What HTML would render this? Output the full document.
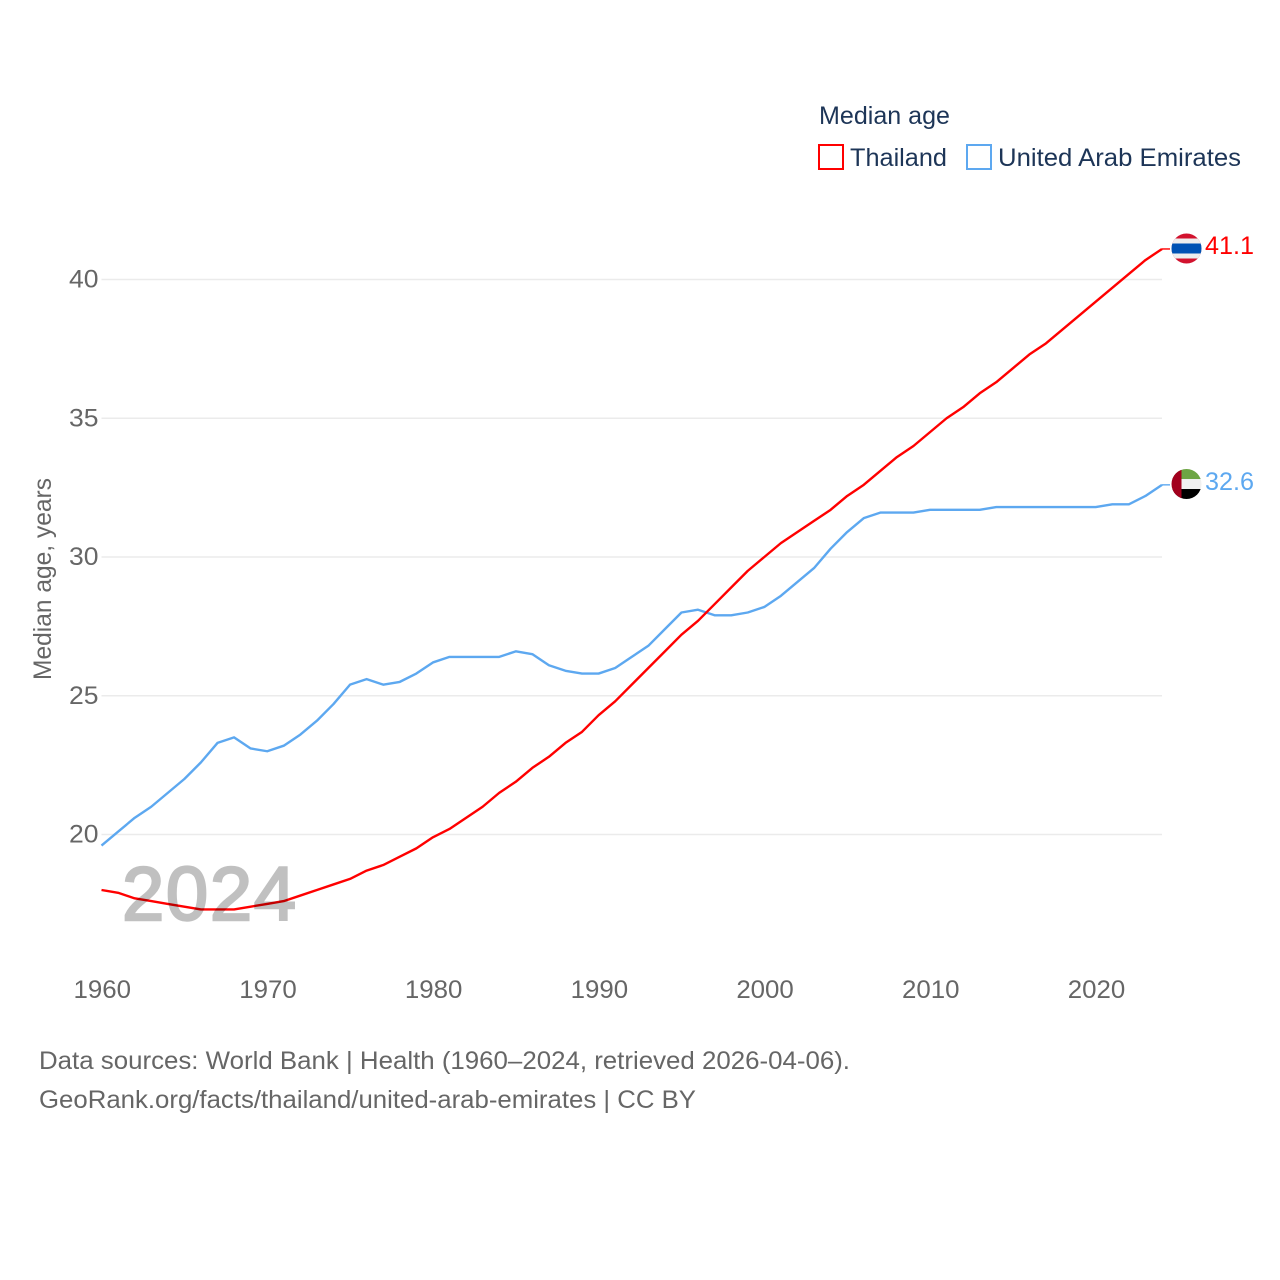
<!DOCTYPE html>
<html lang="en">
<head>
<meta charset="utf-8">
<title>Median age: Thailand and United Arab Emirates</title>
<style>
html,body{margin:0;padding:0;background:#fff;width:1280px;height:1280px;overflow:hidden}
svg{display:block}
text{font-family:"Liberation Sans",sans-serif;font-size:25px}
</style>
</head>
<body>
<svg id="chart" xmlns="http://www.w3.org/2000/svg" width="1280" height="1280" viewBox="0 0 1280 1280">
  <defs>
    <clipPath id="clip-th"><circle cx="1186.5" cy="248.5" r="15"/></clipPath>
    <clipPath id="clip-ae"><circle cx="1186.5" cy="484" r="15"/></clipPath>
  </defs>
  <g id="grid"></g>
  <g id="yticks"></g>
  <g id="xticks"></g>
  <text transform="translate(51 579) rotate(-90)" text-anchor="middle" fill="#666" textLength="202" lengthAdjust="spacingAndGlyphs">Median age, years</text>
  <g id="series"></g>
  <text x="122" y="920" fill="#000" stroke="#000" stroke-width="2.4" opacity="0.245" style="font-size:76px" textLength="174" lengthAdjust="spacing">2024</text>

  <g clip-path="url(#clip-th)">
    <rect x="1171" y="233.5" width="31" height="30" fill="#d2122e"/>
    <rect x="1171" y="238.5" width="31" height="20" fill="#eeeeee"/>
    <rect x="1171" y="243.5" width="31" height="10" fill="#0052b4"/>
  </g>
  <g clip-path="url(#clip-ae)">
    <rect x="1171" y="469" width="31" height="10" fill="#6da544"/>
    <rect x="1171" y="479" width="31" height="10" fill="#f0f0f0"/>
    <rect x="1171" y="489" width="31" height="10" fill="#000"/>
    <rect x="1171" y="469" width="10.5" height="30" fill="#a2001d"/>
  </g>
  <text x="1205" y="254" fill="#ff0000" textLength="49" lengthAdjust="spacingAndGlyphs">41.1</text>
  <text x="1205" y="490" fill="#5da8f0" textLength="49" lengthAdjust="spacingAndGlyphs">32.6</text>

  <g>
    <text x="819" y="124" fill="#1d3557" textLength="131" lengthAdjust="spacingAndGlyphs">Median age</text>
    <rect x="819" y="145" width="24" height="24" fill="none" stroke="#ff0000" stroke-width="2"/>
    <text x="850" y="166" fill="#1d3557" textLength="97" lengthAdjust="spacingAndGlyphs">Thailand</text>
    <rect x="967" y="145" width="24" height="24" fill="none" stroke="#5da8f0" stroke-width="2"/>
    <text x="998" y="166" fill="#1d3557" textLength="243" lengthAdjust="spacingAndGlyphs">United Arab Emirates</text>
  </g>

  <text x="39" y="1069" fill="#666" textLength="811" lengthAdjust="spacingAndGlyphs">Data sources: World Bank | Health (1960–2024, retrieved 2026-04-06).</text>
  <text x="39" y="1108" fill="#666" textLength="657" lengthAdjust="spacingAndGlyphs">GeoRank.org/facts/thailand/united-arab-emirates | CC BY</text>
</svg>
<script>
const years = [1960,1961,1962,1963,1964,1965,1966,1967,1968,1969,1970,1971,1972,1973,1974,1975,1976,1977,1978,1979,1980,1981,1982,1983,1984,1985,1986,1987,1988,1989,1990,1991,1992,1993,1994,1995,1996,1997,1998,1999,2000,2001,2002,2003,2004,2005,2006,2007,2008,2009,2010,2011,2012,2013,2014,2015,2016,2017,2018,2019,2020,2021,2022,2023,2024];
const thailand = [18.0,17.9,17.7,17.6,17.5,17.4,17.3,17.3,17.3,17.4,17.5,17.6,17.8,18.0,18.2,18.4,18.7,18.9,19.2,19.5,19.9,20.2,20.6,21.0,21.5,21.9,22.4,22.8,23.3,23.7,24.3,24.8,25.4,26.0,26.6,27.2,27.7,28.3,28.9,29.5,30.0,30.5,30.9,31.3,31.7,32.2,32.6,33.1,33.6,34.0,34.5,35.0,35.4,35.9,36.3,36.8,37.3,37.7,38.2,38.7,39.2,39.7,40.2,40.7,41.1];
const uae = [19.6,20.1,20.6,21.0,21.5,22.0,22.6,23.3,23.5,23.1,23.0,23.2,23.6,24.1,24.7,25.4,25.6,25.4,25.5,25.8,26.2,26.4,26.4,26.4,26.4,26.6,26.5,26.1,25.9,25.8,25.8,26.0,26.4,26.8,27.4,28.0,28.1,27.9,27.9,28.0,28.2,28.6,29.1,29.6,30.3,30.9,31.4,31.6,31.6,31.6,31.7,31.7,31.7,31.7,31.8,31.8,31.8,31.8,31.8,31.8,31.8,31.9,31.9,32.2,32.6];
const yTicks = [20,25,30,35,40];
const xTicks = [1960,1970,1980,1990,2000,2010,2020];

const NS = 'http://www.w3.org/2000/svg';
const xScale = function (year) { return 101.5 + (year - 1960) * (1162 - 101.5) / 64; };
const yScale = function (value) { return 834.5 - (value - 20) * 27.75; };
const gridGroup = document.getElementById('grid');
const yGroup = document.getElementById('yticks');
const xGroup = document.getElementById('xticks');
const seriesGroup = document.getElementById('series');

yTicks.forEach(function (tick) {
  const line = document.createElementNS(NS, 'line');
  
  
  line.setAttribute('x1', xScale(1960));
  line.setAttribute('x2', xScale(2024));
  line.setAttribute('y1', yScale(tick));
  line.setAttribute('y2', yScale(tick));
  line.setAttribute('stroke', '#ebebeb');
  line.setAttribute('stroke-width', '1.6');
  gridGroup.appendChild(line);

  const label = document.createElementNS(NS, 'text');
  
  
  label.setAttribute('x', 69);
  label.setAttribute('y', yScale(tick) + 8);
  label.setAttribute('textLength', '29.5');
  label.setAttribute('lengthAdjust', 'spacingAndGlyphs');
  label.setAttribute('fill', '#666');
  label.textContent = String(tick);
  yGroup.appendChild(label);
});

xTicks.forEach(function (tick) {
  const label = document.createElementNS(NS, 'text');
  
  
  label.setAttribute('x', xScale(tick) - 28);
  label.setAttribute('y', 998);
  label.setAttribute('textLength', '57.5');
  label.setAttribute('lengthAdjust', 'spacingAndGlyphs');
  label.setAttribute('fill', '#666');
  label.textContent = String(tick);
  xGroup.appendChild(label);
});

function drawSeries(values, color, name) {
  const pts = values.map(function (v, i) { return xScale(years[i]).toFixed(2) + ',' + yScale(v).toFixed(2); });
  const lastY = yScale(values[values.length - 1]).toFixed(2);
  const line = document.createElementNS(NS, 'polyline');
  
  
  line.setAttribute('points', pts.join(' '));
  line.setAttribute('fill', 'none');
  line.setAttribute('stroke', color);
  line.setAttribute('stroke-width', '2.4');
  line.setAttribute('stroke-linejoin', 'round');
  seriesGroup.appendChild(line);

  const connector = document.createElementNS(NS, 'line');
  
  
  connector.setAttribute('x1', xScale(2024));
  connector.setAttribute('x2', 1170);
  connector.setAttribute('y1', lastY);
  connector.setAttribute('y2', lastY);
  connector.setAttribute('stroke', color);
  connector.setAttribute('stroke-width', '1.4');
  seriesGroup.appendChild(connector);
}
drawSeries(uae, '#5da8f0', 'uae-line');
drawSeries(thailand, '#ff0000', 'thailand-line');
</script>
</body>
</html>
